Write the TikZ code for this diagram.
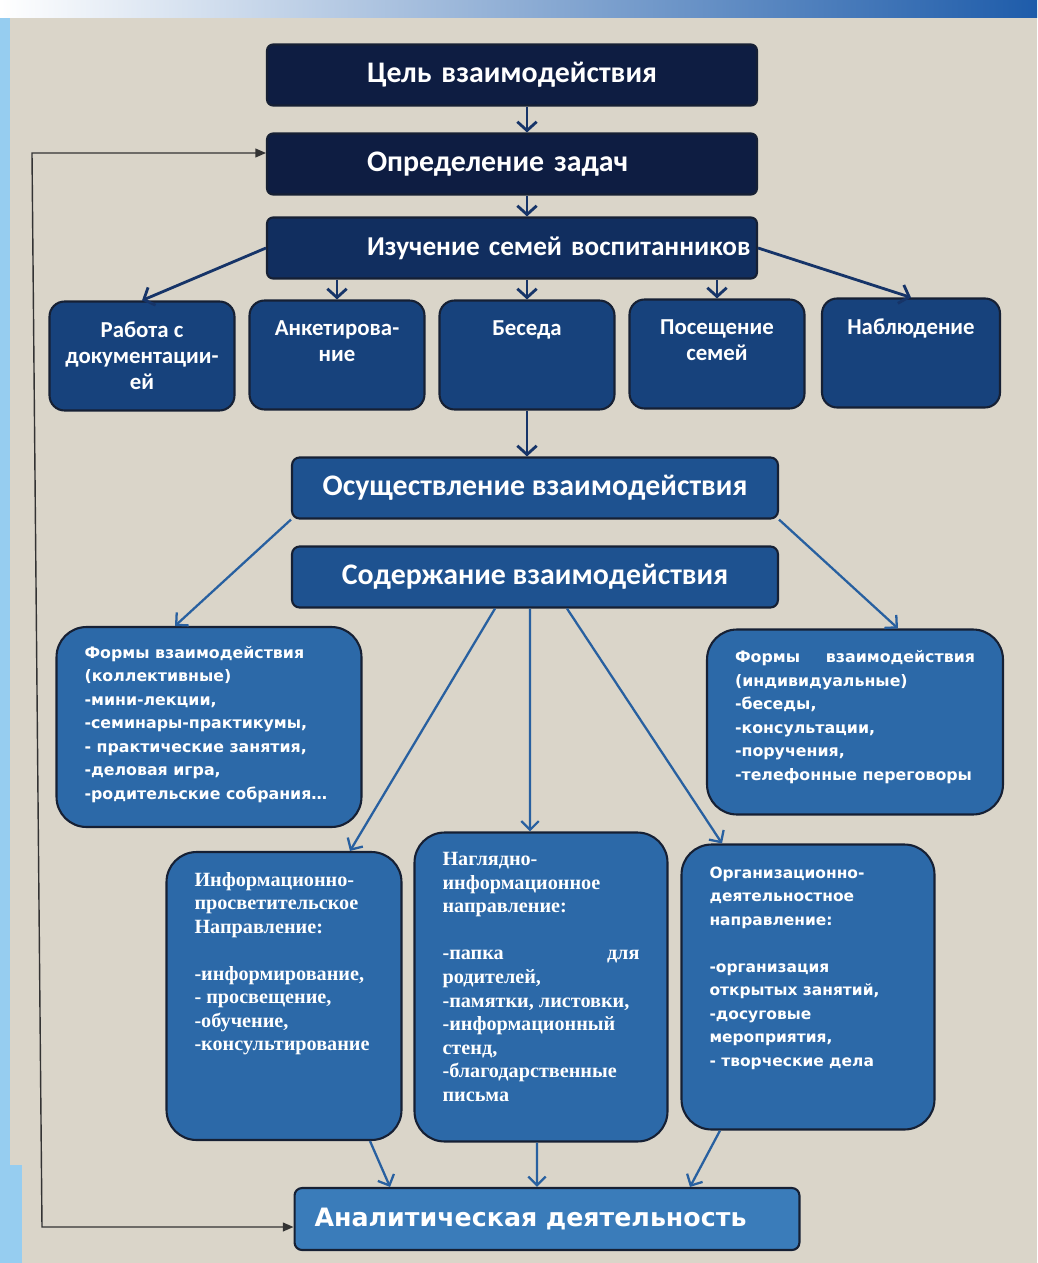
\documentclass[tikz,border=0pt]{standalone}
\usepackage{fontspec}
\setmainfont{Carlito}
\newfontfamily\verd{DejaVu Sans}
\newfontfamily\oldserif{Liberation Serif}
\usetikzlibrary{arrows.meta}

\definecolor{paper}{RGB}{218,213,201}
\definecolor{barblue}{RGB}{30,92,170}
\definecolor{sideblue}{RGB}{150,205,240}
\definecolor{navyA}{RGB}{14,29,66}
\definecolor{navyB}{RGB}{17,46,95}
\definecolor{navyC}{RGB}{23,66,124}
\definecolor{midblue}{RGB}{30,82,144}
\definecolor{lowblue}{RGB}{44,105,168}
\definecolor{analblue}{RGB}{58,124,186}
\definecolor{edgecol}{RGB}{22,32,52}
\definecolor{arrowA}{RGB}{22,52,104}
\definecolor{arrowB}{RGB}{40,96,160}

% text block placed at the top of a box
\newcommand{\inbox}[3]{\parbox[c][#1][t]{#2}{#3}}

\begin{document}
\begin{tikzpicture}[x=0.02cm, y=-0.02cm,
    box/.style={draw=edgecol, line width=1.2pt, text=white, inner sep=0pt},
    topbox/.style={box, fill=navyA, rounded corners=0.12cm, minimum width=9.8cm, minimum height=1.22cm,
        text width=9.8cm, align=left, execute at begin node={\hspace*{2cm}},
        font=\bfseries\fontsize{17}{20}\selectfont},
    waybox/.style={box, fill=navyC, rounded corners=0.3cm, minimum height=2.18cm,
        font=\bfseries\fontsize{13}{14.8}\selectfont},
    midbox/.style={box, fill=midblue, rounded corners=0.15cm, minimum width=9.72cm, minimum height=1.22cm,
        font=\bfseries\fontsize{17}{20}\selectfont},
    formbox/.style={box, fill=lowblue, rounded corners=0.6cm, font=\verd\bfseries\fontsize{9}{13.4}\selectfont},
    dirbox/.style={box, fill=lowblue, rounded corners=0.6cm, font=\oldserif\bfseries\fontsize{11.5}{13.4}\selectfont},
    navyarrow/.style={draw=arrowA, line width=1.6pt, -{Straight Barb[length=5pt,width=11pt]}},
    bluearrow/.style={draw=arrowB, line width=1.3pt, -{Straight Barb[length=5pt,width=10pt]}},
    feedback/.style={draw=black!80, line width=0.8pt, {Triangle[length=6pt,width=5pt]}-{Triangle[length=6pt,width=5pt]}}
]
    \useasboundingbox (0,0) rectangle (1037,1263);

    % Background
    \fill[paper] (0,0) rectangle (1037,1263);
    \shade[left color=white, right color=barblue] (0,0) rectangle (1037,18);
    \fill[sideblue] (0,18) rectangle (10,1263);
    \fill[sideblue] (0,1165) rectangle (22,1263);

    % Coordinates of the feedback line
    \coordinate (fbtop) at (32,153);
    \coordinate (fbbot) at (42,1227);

    % Boxes
    \node[topbox] (goal) at (512,75) {Цель взаимодействия};
    \node[topbox] (tasks) at (512,164) {Определение задач};
    \node[topbox, fill=navyB, font=\bfseries\fontsize{15.5}{18}\selectfont] (study) at (512,248) {Изучение семей воспитанников};

    \node[waybox, minimum width=3.7cm] (docs) at (142,356)
        {\inbox{1.36cm}{3.5cm}{\centering Работа с\\документации-\\ей}};
    \node[waybox, minimum width=3.5cm] (survey) at (337,355)
        {\inbox{1.36cm}{3.3cm}{\centering Анкетирова-\\ние}};
    \node[waybox, minimum width=3.5cm] (talk) at (527,355)
        {\inbox{1.36cm}{3.3cm}{\centering Беседа}};
    \node[waybox, minimum width=3.5cm] (visit) at (717,354)
        {\inbox{1.36cm}{3.3cm}{\centering Посещение\\семей}};
    \node[waybox, minimum width=3.56cm] (watch) at (911,353)
        {\inbox{1.36cm}{3.36cm}{\centering Наблюдение}};

    \node[midbox] (act) at (535,488) {Осуществление взаимодействия};
    \node[midbox] (content) at (535,577) {Содержание взаимодействия};

    \node[formbox, minimum width=6.1cm, minimum height=4cm] (group) at (209,727)
        {\inbox{3.24cm}{4.98cm}{\raggedright Формы взаимодействия\\(коллективные)\\-мини-лекции,\\-семинары-практикумы,\\- практические занятия,\\-деловая игра,\\-родительские собрания\dots}};
    \node[formbox, minimum width=5.92cm, minimum height=3.7cm] (single) at (855,722)
        {\inbox{2.86cm}{4.8cm}{\raggedright Формы\hfill взаимодействия\\(индивидуальные)\\-беседы,\\-консультации,\\-поручения,\\-телефонные переговоры}};

    \node[dirbox, minimum width=4.7cm, minimum height=5.76cm] (inform) at (284,996)
        {\inbox{4.96cm}{3.58cm}{\raggedright Информационно-\\просветительское\\Направление:\\[13.4pt]-информирование,\\- просвещение,\\-обучение,\\-консультирование}};
    \node[dirbox, minimum width=5.06cm, minimum height=6.18cm] (visual) at (541,987)
        {\inbox{5.38cm}{3.94cm}{\raggedright Наглядно-\\информационное\\направление:\\[13.4pt]-папка\hfill для\\родителей,\\-памятки, листовки,\\-информационный\\стенд,\\-благодарственные\\письма}};
    \node[formbox, minimum width=5.06cm, minimum height=5.7cm, font=\verd\bfseries\fontsize{8.8}{13.4}\selectfont] (organize) at (808,987)
        {\inbox{4.82cm}{3.94cm}{\raggedright Организационно-\\деятельностное\\направление:\\[13.4pt]-организация\\открытых занятий,\\-досуговые\\мероприятия,\\- творческие дела}};

    \node[box, fill=analblue, rounded corners=0.15cm, minimum width=10.1cm, minimum height=1.24cm,
        text width=10.1cm, align=left, execute at begin node={\hspace*{0.4cm}},
        font=\verd\bfseries\fontsize{14.4}{18}\selectfont] (result) at (547,1219) {Аналитическая деятельность};

    % Arrows
    \draw[navyarrow] ([xshift=0.3cm]goal.south) -- ([xshift=0.3cm]tasks.north);
    \draw[navyarrow] ([xshift=0.3cm]tasks.south) -- ([xshift=0.3cm]study.north);
    \draw[navyarrow] (study.west) -- (docs.north);
    \draw[navyarrow] (survey.north |- study.south) -- (survey.north);
    \draw[navyarrow] (talk.north |- study.south) -- (talk.north);
    \draw[navyarrow] (visit.north |- study.south) -- (visit.north);
    \draw[navyarrow] (study.east) -- (watch.north);
    \draw[navyarrow] (talk.south) -- (talk.south |- act.north);

    \draw[bluearrow] (act.south west) -- ([xshift=-0.68cm]group.north);
    \draw[bluearrow] (act.south east) -- ([xshift=0.86cm]single.north);
    \draw[bluearrow] ([xshift=-0.8cm]content.south) -- ([xshift=1.32cm]inform.north);
    \draw[bluearrow] ([xshift=-0.1cm]content.south) -- ([xshift=-0.22cm]visual.north);
    \draw[bluearrow] ([xshift=0.64cm]content.south) -- ([xshift=-1.72cm]organize.north);

    \draw[bluearrow] ([xshift=1.72cm]inform.south) -- ([xshift=-3.14cm]result.north);
    \draw[bluearrow] ([xshift=-0.08cm]visual.south) -- ([xshift=-0.2cm]result.north);
    \draw[bluearrow] ([xshift=-1.76cm]organize.south) -- ([xshift=2.86cm]result.north);

    % Feedback line
    \draw[feedback] (fbtop -| tasks.west) -- (fbtop) -- (fbbot) -- (fbbot -| result.west);
\end{tikzpicture}
\end{document}
